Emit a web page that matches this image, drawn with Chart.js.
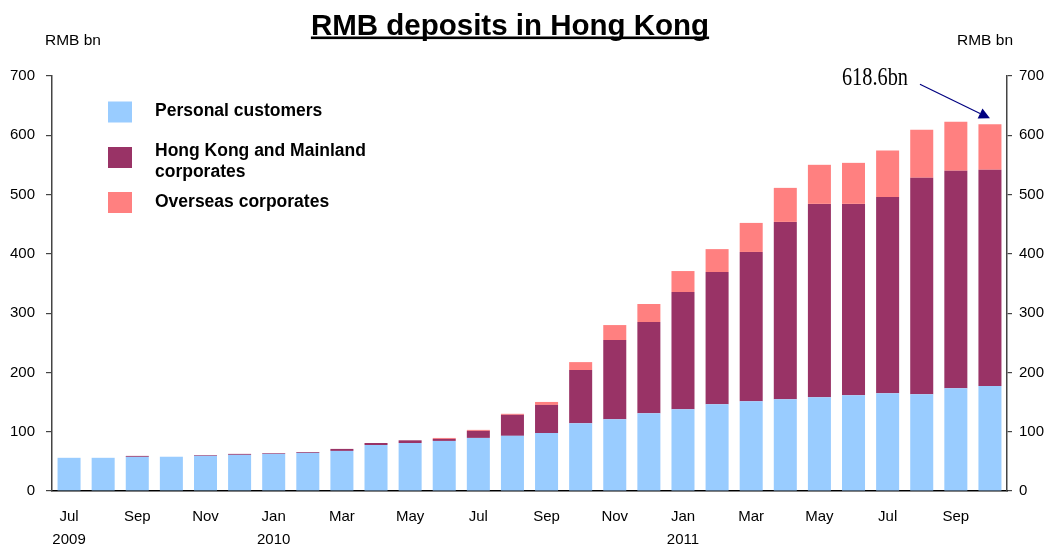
<!DOCTYPE html>
<html>
<head>
<meta charset="utf-8">
<script src="https://cdn.jsdelivr.net/npm/chart.js@4.4.1/dist/chart.umd.min.js"></script>
<style>
  html, body { margin: 0; padding: 0; background: #fff; }
  #wrap { position: relative; width: 1050px; height: 547px; }
</style>
</head>
<body>
<div id="wrap"><canvas id="c" width="1050" height="547"></canvas></div>
<script>
// ---- data ----
const months = ['Jul','Aug','Sep','Oct','Nov','Dec',
  'Jan','Feb','Mar','Apr','May','Jun','Jul','Aug','Sep','Oct','Nov','Dec',
  'Jan','Feb','Mar','Apr','May','Jun','Jul','Aug','Sep','Oct'];
const tickLabels = [['Jul','2009'],'',  'Sep','',  'Nov','',
  ['Jan','2010'],'',  'Mar','',  'May','',  'Jul','',  'Sep','',  'Nov','',
  ['Jan','2011'],'',  'Mar','',  'May','',  'Jul','',  'Sep',''];
const personal = [56.0, 56.0, 57.6, 57.8, 59.3, 61.0,
  62.6, 64.3, 67.6, 77.6, 81.0, 84.5, 89.6, 93.0, 97.8, 114.4, 121.1, 131.2,
  138.0, 146.5, 151.5, 154.9, 158.3, 161.7, 165.0, 163.3, 173.5, 176.9];
const hkMainland = [0, 0, 1.6, 0, 1.2, 1.6,
  1.2, 1.4, 3.4, 3.4, 4.5, 3.4, 11.8, 35.5, 47.4, 89.5, 133.5, 153.8,
  197.6, 222.9, 251.7, 299.0, 326.0, 322.6, 331.1, 364.9, 366.5, 364.8];
const overseas = [0, 0, 0, 0, 0, 0,
  0, 0, 0, 0, 0, 1.6, 1.7, 1.7, 5.0, 13.5, 25.3, 30.4,
  35.4, 38.6, 49.0, 57.4, 65.9, 69.2, 78.2, 81.1, 82.8, 76.9];
const yTicks = [0, 100, 200, 300, 400, 500, 600, 700];
const seriesNames = ['Personal customers', ['Hong Kong and Mainland', 'corporates'], 'Overseas corporates'];
const seriesColors = ['#99CCFF', '#993366', '#FF8080'];
const titleText = 'RMB deposits in Hong Kong';
const unitText = 'RMB bn';
const annotText = '618.6bn';
const annotIndex = 27;

const FONT = '"Liberation Sans", Arial, sans-serif';
Chart.defaults.font.family = FONT;
Chart.defaults.color = '#000';

const decorPlugin = {
  id: 'decor',
  afterDraw(chart) {
    const ctx = chart.ctx;
    ctx.save();
    // title
    ctx.font = 'bold 29.5px ' + FONT;
    ctx.fillStyle = '#000';
    ctx.textAlign = 'center';
    ctx.textBaseline = 'alphabetic';
    const tx = 510, ty = 35;
    ctx.fillText(titleText, tx, ty);
    const tw = ctx.measureText(titleText).width;
    ctx.fillRect(tx - tw / 2, ty + 1.5, tw, 2.6);
    // unit labels
    ctx.font = '15.5px ' + FONT;
    ctx.textBaseline = 'middle';
    ctx.textAlign = 'left';
    ctx.fillText(unitText, 45, 41);
    ctx.textAlign = 'right';
    ctx.fillText(unitText, 1013, 41);
    // legend
    const rows = [111.5, 157, 202];
    ctx.font = 'bold 17.5px ' + FONT;
    ctx.textAlign = 'left';
    for (let i = 0; i < seriesNames.length; i++) {
      ctx.fillStyle = seriesColors[i];
      const by = (i === 1 ? 147 : rows[i] - 10);
      ctx.fillRect(108, by, 24, 21);
      ctx.fillStyle = '#000';
      const name = seriesNames[i];
      if (Array.isArray(name)) {
        ctx.fillText(name[0], 155, 151);
        ctx.fillText(name[1], 155, 172);
      } else {
        ctx.fillText(name, 155, rows[i]);
      }
    }
    // annotation
    const xs = chart.scales.x, ys = chart.scales.y;
    const total = personal[annotIndex] + hkMainland[annotIndex] + overseas[annotIndex];
    const tipX = xs.getPixelForValue(annotIndex);
    const tipY = ys.getPixelForValue(total) - 6;
    const sx = tipX - 70, sy = tipY - 34;
    ctx.strokeStyle = '#000080';
    ctx.fillStyle = '#000080';
    ctx.lineWidth = 1.2;
    const ang = Math.atan2(tipY - sy, tipX - sx);
    const hl = 11, hw = 5.5;
    const bx = tipX - hl * Math.cos(ang), byy = tipY - hl * Math.sin(ang);
    ctx.beginPath();
    ctx.moveTo(sx, sy);
    ctx.lineTo(bx, byy);
    ctx.stroke();
    ctx.beginPath();
    ctx.moveTo(tipX, tipY);
    ctx.lineTo(bx + hw * Math.sin(ang), byy - hw * Math.cos(ang));
    ctx.lineTo(bx - hw * Math.sin(ang), byy + hw * Math.cos(ang));
    ctx.closePath();
    ctx.fill();
    // annotation text (condensed serif)
    ctx.fillStyle = '#000';
    ctx.font = '25px "Liberation Serif", "Times New Roman", serif';
    ctx.textAlign = 'left';
    ctx.textBaseline = 'alphabetic';
    const aw = ctx.measureText(annotText).width;
    const scaleX = 66 / aw;
    ctx.translate(tipX - 148, tipY - 33);
    ctx.scale(scaleX, 1);
    ctx.fillText(annotText, 0, 0);
    ctx.restore();
  }
};

new Chart(document.getElementById('c'), {
  type: 'bar',
  data: {
    labels: months,
    datasets: [
      { label: 'Personal customers', data: personal, backgroundColor: seriesColors[0], yAxisID: 'y' },
      { label: 'Hong Kong and Mainland corporates', data: hkMainland, backgroundColor: seriesColors[1], yAxisID: 'y' },
      { label: 'Overseas corporates', data: overseas, backgroundColor: seriesColors[2], yAxisID: 'y' }
    ]
  },
  options: {
    responsive: false,
    animation: false,
    devicePixelRatio: 1,
    layout: { padding: { top: 76, left: 0, right: 0, bottom: 0 } },
    datasets: { bar: { barPercentage: 0.675, categoryPercentage: 1.0, borderWidth: 0 } },
    plugins: { legend: { display: false }, tooltip: { enabled: false }, title: { display: false } },
    scales: {
      x: {
        stacked: true,
        grid: { display: false, drawTicks: false },
        border: { display: true, color: '#000', width: 1.5 },
        ticks: {
          autoSkip: false, maxRotation: 0, minRotation: 0, padding: 14,
          font: { size: 15, lineHeight: 1.55 },
          color: '#000',
          callback: (v, i) => tickLabels[i]
        },
        afterFit: (s) => { s.height = 56; }
      },
      y: {
        stacked: true,
        position: 'left',
        min: 0, max: 700,
        afterBuildTicks: (s) => { s.ticks = yTicks.map(v => ({ value: v })); },
        grid: { drawOnChartArea: false, drawTicks: true, tickLength: 6, color: '#444', lineWidth: 1.2 },
        border: { display: true, color: '#444', width: 1.5 },
        ticks: { padding: 11, font: { size: 15 }, color: '#000' },
        afterFit: (s) => { s.width = 52; }
      },
      y2: {
        position: 'right',
        min: 0, max: 700,
        afterBuildTicks: (s) => { s.ticks = yTicks.map(v => ({ value: v })); },
        grid: { drawOnChartArea: false, drawTicks: true, tickLength: 5, color: '#444', lineWidth: 1.2 },
        border: { display: true, color: '#444', width: 1.5 },
        ticks: { padding: 7, font: { size: 15 }, color: '#000' },
        afterFit: (s) => { s.width = 43; }
      }
    }
  },
  plugins: [decorPlugin]
});
</script>
</body>
</html>
